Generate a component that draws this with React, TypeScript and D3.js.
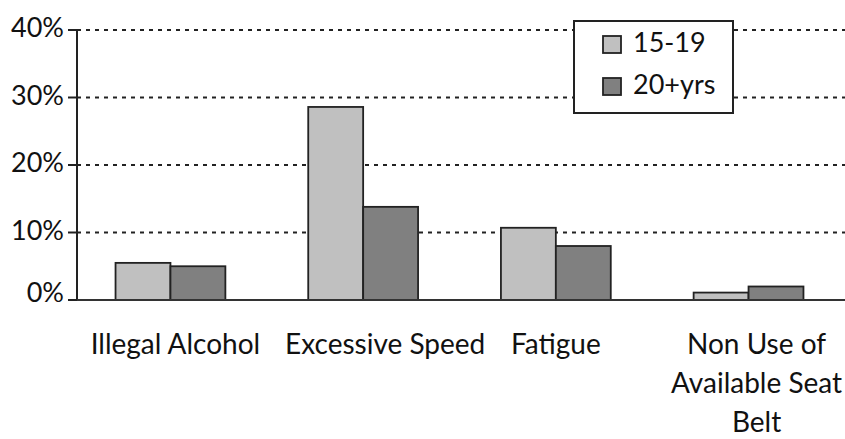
import React from "react";
import * as d3 from "d3";

// chart data
const categories = ["Illegal Alcohol", "Excessive Speed", "Fatigue", "Non Use of Available Seat Belt"];
const categoryLines = [["Illegal Alcohol"], ["Excessive Speed"], ["Fatigue"], ["Non Use of", "Available Seat", "Belt"]];
const seriesNames = ["15-19", "20+yrs"];
const teens = [5.5, 28.6, 10.7, 1.1];
const adults = [5.0, 13.8, 8.0, 2.0];
const yTicks = [0, 10, 20, 30, 40];

const W = 845;
const H = 439;
const FONT = "Lato, 'Open Sans', sans-serif";
const colors = ["#c0c0c0", "#808080"];

class Chart extends React.Component<{}> {
    render() {
        var x = d3.scaleBand<string>()
            .domain(categories)
            .range([77, 842])
            .paddingInner(0.43)
            .paddingOuter(0.2);
        var x1 = d3.scaleBand<string>()
            .domain(seriesNames)
            .range([0, x.bandwidth()]);
        var y = d3.scaleLinear()
            .domain([0, 40])
            .range([300, 30]);

        var values = [teens, adults];
        // label nudges so the long labels don't collide
        var labelShift = [5, 22, 0, 8];

        return (
            <svg width={W} height={H} style={{ position: "absolute", left: 0, top: 0 }} fontFamily={FONT}>
                <rect width={W} height={H} fill="#fff" />
                {/* dotted gridlines */}
                {yTicks.filter((t) => t > 0).map((t) => (
                    <line key={"g" + t} x1={77} x2={W} y1={y(t)} y2={y(t)}
                        stroke="#222" strokeWidth={2} strokeDasharray="4 5" />
                ))}
                {/* bars */}
                {categories.map((c, i) => (
                    <g key={c} transform={`translate(${x(c)},0)`}>
                        {seriesNames.map((s, j) => (
                            <rect key={s} x={x1(s)} y={y(values[j][i])}
                                width={x1.bandwidth()} height={y(0) - y(values[j][i])}
                                fill={colors[j]} stroke="#222" strokeWidth={1.8} />
                        ))}
                    </g>
                ))}
                {/* y axis */}
                <line x1={77} x2={77} y1={y(40)} y2={y(0)} stroke="#222" strokeWidth={2} />
                <line x1={68} x2={W} y1={y(0)} y2={y(0)} stroke="#333" strokeWidth={2} />
                {yTicks.map((t) => (
                    <g key={"t" + t}>
                        <line x1={68} x2={77} y1={y(t)} y2={y(t)} stroke="#222" strokeWidth={2} />
                        <text x={64} y={y(t) + (t === 0 ? 2 : 7)} textAnchor="end" fontSize={27} fill="#111">{t + "%"}</text>
                    </g>
                ))}
                {/* category labels */}
                {categories.map((c, i) => (
                    <text key={"l" + c} textAnchor="middle" fontSize={28} fill="#111">
                        {categoryLines[i].map((ln, k) => (
                            <tspan key={k} x={(x(c) as number) + x.bandwidth() / 2 + labelShift[i]} y={354 + k * 39}>{ln}</tspan>
                        ))}
                    </text>
                ))}
                {/* legend */}
                <g transform="translate(574,21)">
                    <rect width={159} height={92} fill="#fff" stroke="#222" strokeWidth={2} />
                    {seriesNames.map((s, j) => (
                        <g key={s} transform={`translate(29,${15 + j * 42})`}>
                            <rect width={18} height={17} fill={colors[j]} stroke="#222" strokeWidth={1.8} />
                            <text x={30} y={16} fontSize={27} fill="#111">{s}</text>
                        </g>
                    ))}
                </g>
            </svg>
        );
    }
}

export default function App() {
    return <Chart />;
}
